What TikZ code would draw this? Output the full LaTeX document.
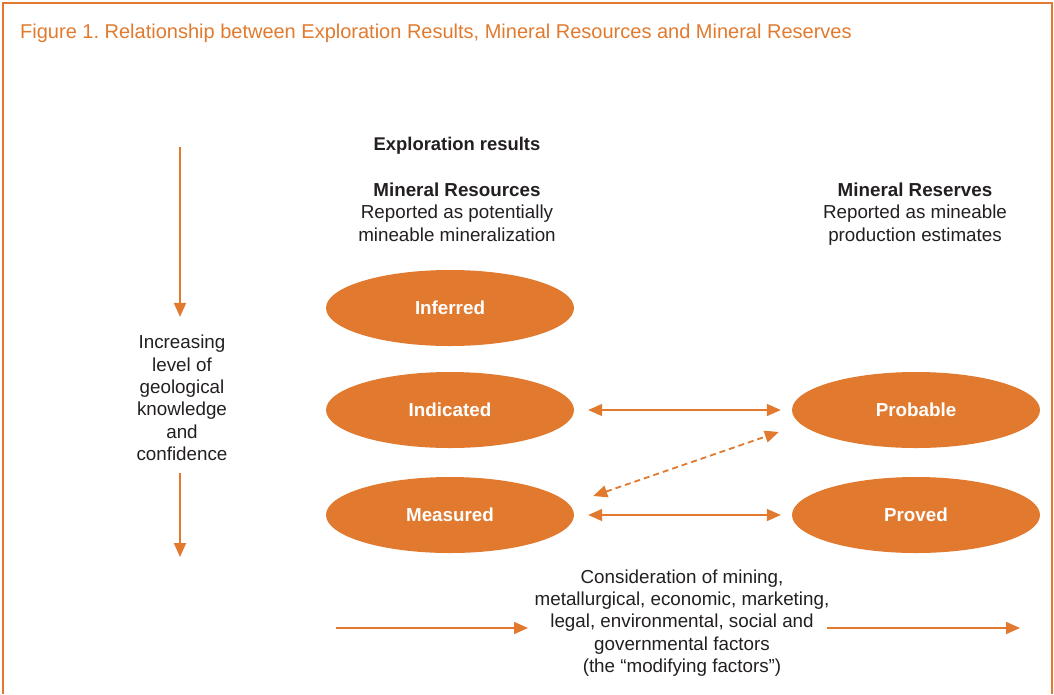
\documentclass[tikz,border=0pt]{standalone}
\usepackage{fontspec}
\setmainfont{Liberation Sans}
\usepackage{xcolor}
\usetikzlibrary{positioning,shapes.geometric,arrows.meta}
\definecolor{ore}{RGB}{225,122,46}
\definecolor{ink}{RGB}{35,31,32}

\begin{document}
\begin{tikzpicture}[x=1pt,y=-1pt,
    body/.style={align=center, text=ink, inner sep=0pt, font=\fontsize{18.8}{22.4}\selectfont},
    cat/.style={ellipse, fill=ore, minimum width=248pt, minimum height=76pt, inner sep=0pt,
      text=white, font=\fontsize{18.8}{22}\selectfont\bfseries},
    tip/.style={draw=ore, line width=1.8pt, -{Triangle[length=14pt,width=12pt]}},
    link/.style={draw=ore, line width=1.8pt, {Triangle[length=14pt,width=12pt]}-{Triangle[length=14pt,width=12pt]}}]
  \useasboundingbox (0,0) rectangle (1054,694);
  \draw[ore, line width=2pt] (3,694) -- (3,3) -- (1052,3) -- (1052,694);

  \node[anchor=base west, inner sep=0pt, text=ore, font=\fontsize{20}{24}\selectfont] (title) at (20,38)
    {Figure 1.\ Relationship between Exploration Results, Mineral Resources and Mineral Reserves};

  % headings
  \node[body, font=\fontsize{18.4}{22.4}\selectfont\bfseries] (expl) at (457,146) {Exploration results};
  \node[body] (res) at (457,212) {\textbf{Mineral Resources}\\Reported as potentially\\mineable mineralization};
  \node[body] (rsv) at (915,214) {\textbf{Mineral Reserves}\\Reported as mineable\\production estimates};

  % categories
  \node[cat] (inf) at (450,308) {Inferred};
  \node[cat] (ind) at (450,410) {Indicated};
  \node[cat] (meas) at (450,515) {Measured};
  \node[cat] (prob) at (916,410) {Probable};
  \node[cat] (prov) at (916,515) {Proved};

  \draw[link, shorten <=14pt, shorten >=11pt] (ind) -- (prob);
  \draw[link, shorten <=14pt, shorten >=11pt] (meas) -- (prov);
  \draw[link, dash pattern=on 6pt off 4pt] ([xshift=19pt,yshift=19pt]meas.east) -- ([xshift=-13pt,yshift=-22pt]prob.west);

  % knowledge axis
  \node[body] (know) at (182,398) {Increasing\\level of\\geological\\knowledge\\and\\confidence};
  \coordinate (ktop) at (180,147);
  \coordinate (kbot) at (180,557);
  \draw[tip, shorten >=18pt] (ktop) -- (ktop |- know.north);
  \draw[tip, shorten <=12pt] (kbot |- know.south) -- (kbot);

  % modifying factors
  \node[body] (mods) at (682,623) {Consideration of mining,\\metallurgical, economic, marketing,\\legal, environmental, social and\\governmental factors\\(the “modifying factors”)};
  \coordinate (m1) at (336,628);
  \coordinate (m2) at (528,628);
  \coordinate (m3) at (827,628);
  \coordinate (m4) at (1020,628);
  \draw[tip] (m1) -- (m2);
  \draw[tip] (m3) -- (m4);
\end{tikzpicture}
\end{document}
